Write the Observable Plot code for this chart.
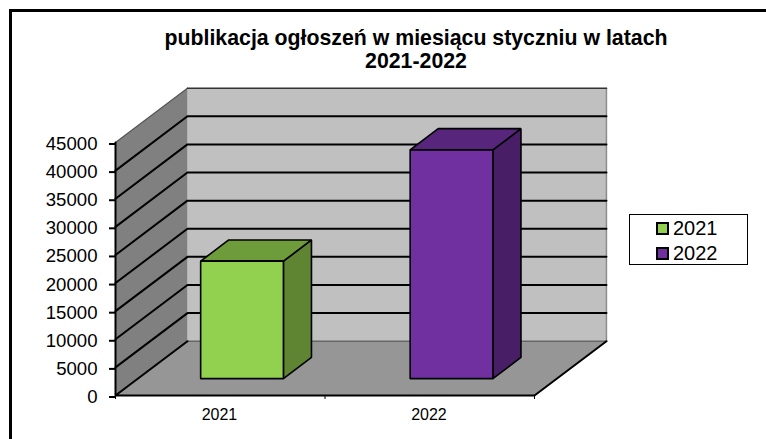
<!DOCTYPE html>
<html><head><meta charset="utf-8">
<script src="https://cdn.jsdelivr.net/npm/d3@7"></script>
<script src="https://cdn.jsdelivr.net/npm/@observablehq/plot@0.6"></script>
<style>
html,body{margin:0;padding:0;background:#fff;overflow:hidden}
#wrap{position:relative;width:766px;height:439px;font-family:"Liberation Sans",Arial,sans-serif;color:#000}
#wrap svg{position:absolute;left:0;top:0;background:transparent}
#frameT{position:absolute;left:9px;top:9px;width:757px;height:3px;background:#000}
#frameL{position:absolute;left:9px;top:9px;width:3px;height:430px;background:#000}
#title{position:absolute;left:66px;width:700px;top:27px;text-align:center;font-weight:bold;font-size:21.3px;line-height:23px}
#legend{position:absolute;left:629px;top:214px;width:117px;height:49px;border:1px solid #000;background:#fff}
.li{position:absolute;left:26px;height:24px;display:flex;align-items:center;font-size:20px;line-height:24px}
.sw{width:9px;height:9px;border:2px solid #000;margin-right:4px;display:inline-block}
</style></head><body>
<div id="wrap"><div id="frameT"></div><div id="frameL"></div>
<div id="title">publikacja ogłoszeń w miesiącu styczniu w latach<br>2021-2022</div>
<div id="legend"></div></div>
<script>
const categories = ["2021", "2022"];
const values = [20900, 40700];
const yTicks = [0, 5000, 10000, 15000, 20000, 25000, 30000, 35000, 40000, 45000];
const barColors = ["#92D050", "#7030A0"];
const barSides = ["#5F8532", "#481F67"];
const barTops = ["#6F9C3B", "#57257C"];
const barStart = 0.3, barWidth = 0.395, depthFront = 0.31, depthBack = 0.70;
const yMax = 45000, xMax = categories.length;

// oblique projection of (category position, value, depth 0..1) into scale units
const depthX = 0.3434, depthY = 9660;
const pr = (u, v, d) => ({x: u + d * depthX, y: v + d * depthY});
const face = (pts, o) => Plot.line(pts.map(p => pr(...p)), {x: "x", y: "y", curve: "linear-closed", strokeLinejoin: "miter", ...o});
const path = (pts, o) => Plot.line(pts.map(p => pr(...p)), {x: "x", y: "y", strokeLinejoin: "miter", ...o});

const marks = [
  face([[0,0,0],[xMax,0,0],[xMax,0,1],[0,0,1]], {fill: "#969696", stroke: "none"}),
  face([[0,0,1],[xMax,0,1],[xMax,yMax,1],[0,yMax,1]], {fill: "#C0C0C0", stroke: "none"}),
  face([[0,0,0],[0,0,1],[0,yMax,1],[0,yMax,0]], {fill: "#808080", stroke: "none"}),
  path([[0,0,1],[xMax,0,1]], {stroke: "#666", strokeWidth: 1.5}),
  path([[xMax,0,1],[xMax,yMax,1]], {stroke: "#8c8c8c", strokeWidth: 1.5}),
  path([[0,yMax,0],[0,yMax,1]], {stroke: "#555", strokeWidth: 1.2}),
  path([[0,yMax,1],[xMax,yMax,1]], {stroke: "#333", strokeWidth: 1.5})
];
yTicks.filter(v => v > 0 && v < yMax).forEach(v =>
  marks.push(path([[0,v,0],[0,v,1],[xMax,v,1]], {stroke: "#000", strokeWidth: 2}))
);
marks.push(
  path([[0,0,1],[0,0,0],[xMax,0,0],[xMax,0,1]], {stroke: "#000", strokeWidth: 2}),
  path([[0,0,0],[0,yMax,0]], {stroke: "#000", strokeWidth: 2})
);
values.forEach((v, i) => {
  const a = i + barStart, b = a + barWidth, s = {stroke: "#000", strokeWidth: 1.6};
  marks.push(
    face([[b,0,depthFront],[b,0,depthBack],[b,v,depthBack],[b,v,depthFront]], {fill: barSides[i], ...s}),
    face([[a,v,depthFront],[b,v,depthFront],[b,v,depthBack],[a,v,depthBack]], {fill: barTops[i], ...s}),
    face([[a,0,depthFront],[b,0,depthFront],[b,v,depthFront],[a,v,depthFront]], {fill: barColors[i], ...s})
  );
});
marks.push(
  Plot.axisY({ticks: yTicks, tickSize: 6, tickPadding: 12, fontSize: 18.6, strokeWidth: 2, label: null, tickFormat: "d", fill: "#000", stroke: "#000", dy: 1.5}),
  Plot.axisX({ticks: d3.range(xMax + 1), tickSize: 4, text: null, label: null, stroke: "#000", strokeWidth: 1}),
  Plot.axisX({ticks: categories.map((c, i) => i + 0.5), tickSize: 0, tickPadding: 13, dx: -0.8, tickFormat: u => categories[Math.floor(u)], label: null, fontSize: 16, fill: "#000"})
);

const chart = Plot.plot({
  width: 766, height: 439,
  marginLeft: 115, marginRight: 232, marginTop: 142, marginBottom: 44,
  style: {fontFamily: '"Liberation Sans",Arial,sans-serif', background: "transparent", overflow: "visible"},
  x: {domain: [0, xMax]},
  y: {domain: [0, yMax]},
  marks
});
document.getElementById("wrap").prepend(chart);

const legend = document.getElementById("legend");
categories.forEach((c, i) => {
  const it = document.createElement("div");
  it.className = "li";
  it.style.top = (i === 0 ? 1 : 26) + "px";
  const sw = document.createElement("span");
  sw.className = "sw"; sw.style.background = barColors[i];
  it.append(sw, document.createTextNode(c));
  legend.append(it);
});
</script>
</body></html>
